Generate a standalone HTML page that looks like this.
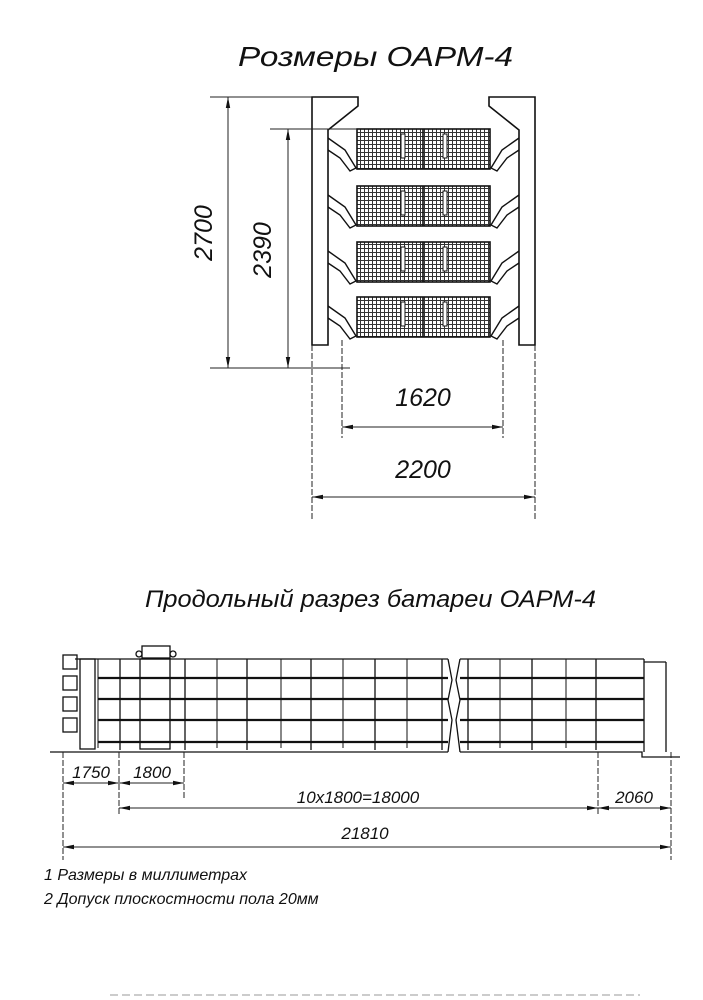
<!DOCTYPE html>
<html><head><meta charset="utf-8"><style>
html,body{margin:0;padding:0;background:#fff;}
svg{display:block;}
text{font-family:"Liberation Sans","DejaVu Sans",sans-serif;font-style:italic;fill:#111;}
</style></head><body>
<svg width="703" height="1000" viewBox="0 0 703 1000" xmlns="http://www.w3.org/2000/svg">
<defs>
<pattern id="g" width="4" height="4" patternUnits="userSpaceOnUse">
<rect width="4" height="4" fill="#fff"/>
<path d="M0 0.5H4M0.5 0V4" stroke="#333" stroke-width="1"/>
</pattern>
<marker id="a" markerWidth="11" markerHeight="6" refX="11" refY="3" orient="auto-start-reverse" markerUnits="userSpaceOnUse">
<path d="M11 3L0 0.8L0 5.2Z" fill="#111"/>
</marker>
</defs>
<text x="238" y="66" font-size="28" textLength="275" lengthAdjust="spacingAndGlyphs">Розмеры ОАРМ-4</text>

<g stroke="#111" stroke-width="1.6" fill="none">
<path d="M312 97 H358 V106 L328 130 V345 H312 Z"/>
<path d="M535 97 H489 V106 L519 130 V345 H535 Z"/>
</g>
<g stroke="#111" stroke-width="1.6">
<rect x="357" y="129" width="133" height="40" fill="url(#g)"/>
<rect x="357" y="186" width="133" height="40" fill="url(#g)"/>
<rect x="357" y="242" width="133" height="40" fill="url(#g)"/>
<rect x="357" y="297" width="133" height="40" fill="url(#g)"/>
<path d="M423 129V169M423 186V226M423 242V282M423 297V337" />
</g>
<g fill="#fff" stroke="#111" stroke-width="1">
<rect x="401" y="134" width="4" height="24"/><rect x="443" y="134" width="4" height="24"/>
<rect x="401" y="191" width="4" height="24"/><rect x="443" y="191" width="4" height="24"/>
<rect x="401" y="247" width="4" height="24"/><rect x="443" y="247" width="4" height="24"/>
<rect x="401" y="302" width="4" height="24"/><rect x="443" y="302" width="4" height="24"/>
</g>
<g stroke="#111" stroke-width="1.4" fill="none">
<path d="M328 138 L345 150 L356 168 L350 171 L340 158 L328 150"/>
<path d="M328 195 L345 207 L356 225 L350 228 L340 215 L328 207"/>
<path d="M328 251 L345 263 L356 281 L350 284 L340 271 L328 263"/>
<path d="M328 306 L345 318 L356 336 L350 339 L340 326 L328 318"/>
<path d="M519 138 L502 150 L491 168 L497 171 L507 158 L519 150"/>
<path d="M519 195 L502 207 L491 225 L497 228 L507 215 L519 207"/>
<path d="M519 251 L502 263 L491 281 L497 284 L507 271 L519 263"/>
<path d="M519 306 L502 318 L491 336 L497 339 L507 326 L519 318"/>
</g>
<g stroke="#222" stroke-width="1">
<path d="M210 97H312M210 368H350M270 129H357"/>
<path d="M228 97V368" marker-start="url(#a)" marker-end="url(#a)"/>
<path d="M288 129V368" marker-start="url(#a)" marker-end="url(#a)"/>
<path d="M342 340V438M503 340V438M312 345V520M535 345V520" stroke-dasharray="6 2"/>
<path d="M342 427H503" marker-start="url(#a)" marker-end="url(#a)"/>
<path d="M312 497H535" marker-start="url(#a)" marker-end="url(#a)"/>
</g>
<text transform="translate(212 233) rotate(-90)" font-size="25" text-anchor="middle">2700</text>
<text transform="translate(271 250) rotate(-90)" font-size="25" text-anchor="middle">2390</text>
<text x="423" y="406" font-size="25" text-anchor="middle">1620</text>
<text x="423" y="478" font-size="25" text-anchor="middle">2200</text>

<text x="145" y="607" font-size="24" textLength="451" lengthAdjust="spacingAndGlyphs">Продольный разрез батареи ОАРМ-4</text>

<g stroke="#111" stroke-width="1.3" fill="none">
<path d="M50 752H448M460 752H642V757H680"/>
<path d="M75 659H448M460 659H644"/>
<path d="M98 678H448M460 678H644M98 699H448M460 699H644M98 720H448M460 720H644M98 742H448M460 742H644" stroke-width="2.2"/>
<path d="M644 659V752M666 662V752M644 662H666"/>
<rect x="80" y="659" width="15" height="90"/>
<rect x="63" y="655" width="14" height="14"/><rect x="63" y="676" width="14" height="14"/><rect x="63" y="697" width="14" height="14"/><rect x="63" y="718" width="14" height="14"/>
<rect x="140" y="659" width="30" height="90"/>
<rect x="142" y="646" width="28" height="12"/>
<circle cx="139" cy="654" r="3"/><circle cx="173" cy="654" r="3"/>
<path d="M120 659V750M185 659V750M247 659V750M311 659V750M375 659V750M442 659V750M468 659V750M532 659V750M596 659V750"/>
<path d="M217 659V748M281 659V748M343 659V748M407 659V748M500 659V748M566 659V748" stroke-width="1"/>
<path d="M98 659V748" stroke-width="1"/>
<path d="M448 659 L452 680 L448 700 L452 720 L448 752M460 659 L456 680 L460 700 L456 720 L460 752"/>
<path d="M620 678H644M620 699H644M620 720H644M620 742H644" stroke-width="1"/>
</g>
<g stroke="#222" stroke-width="1">
<path d="M63 752V860M119 752V815M184 752V800M598 752V815M671 752V860" stroke-dasharray="6 2"/>
<path d="M63 783H119" marker-start="url(#a)" marker-end="url(#a)"/>
<path d="M119 783H184" marker-start="url(#a)" marker-end="url(#a)"/>
<path d="M119 808H598" marker-start="url(#a)" marker-end="url(#a)"/>
<path d="M598 808H671" marker-start="url(#a)" marker-end="url(#a)"/>
<path d="M63 847H671" marker-start="url(#a)" marker-end="url(#a)"/>
</g>
<text x="91" y="778" font-size="17" text-anchor="middle">1750</text>
<text x="152" y="778" font-size="17" text-anchor="middle">1800</text>
<text x="358" y="803" font-size="17" text-anchor="middle">10x1800=18000</text>
<text x="634" y="803" font-size="17" text-anchor="middle">2060</text>
<text x="365" y="839" font-size="17" text-anchor="middle">21810</text>
<text x="44" y="880" font-size="16">1 Размеры в миллиметрах</text>
<text x="44" y="904" font-size="16">2 Допуск плоскостности пола 20мм</text>
<path d="M110 995H640" stroke="#999" stroke-width="1" stroke-dasharray="8 4"/>
</svg>
</body></html>
